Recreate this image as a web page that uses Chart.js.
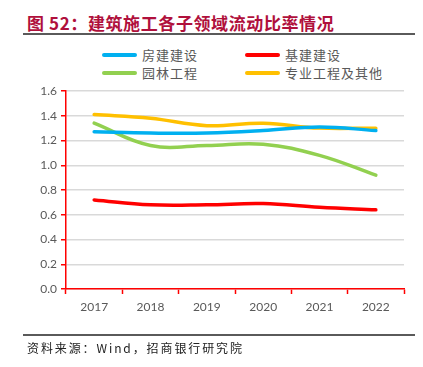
<!DOCTYPE html>
<html>
<head>
<meta charset="utf-8">
<script src="https://cdn.jsdelivr.net/npm/chart.js@4.4.0/dist/chart.umd.min.js"></script>
<style>
  html, body { margin: 0; padding: 0; background: #fff; }
  #wrap { position: relative; width: 423px; height: 367px; overflow: hidden; }
  #title {
    position: absolute; left: 27px; top: 10px;
    font-family: "Noto Sans CJK SC", sans-serif; font-weight: bold;
    font-size: 17px; color: #b0103c; white-space: nowrap; letter-spacing: 0.6px;
  }
  .rule { position: absolute; left: 23px; width: 392px; height: 2px; background: #5a5a5a; }
  #legend { position: absolute; left: 0; top: 0; font-family: "Noto Sans CJK SC", sans-serif; font-size: 13px; color: #595959; }
  .item { position: absolute; white-space: nowrap; }
  .item i { position: absolute; left: 0; top: 8px; width: 35px; height: 4px; border-radius: 2px; }
  .item span { position: absolute; left: 40px; top: 0; line-height: 20px; letter-spacing: 1px; }
  #source {
    position: absolute; left: 27px; top: 339px;
    font-family: "Noto Sans CJK SC", monospace; font-size: 12px; color: #222;
    letter-spacing: 1.9px; white-space: nowrap;
  }
  canvas { position: absolute; left: 0; top: 0; }
</style>
</head>
<body>
<div id="wrap">
  <div id="title">图 52：建筑施工各子领域流动比率情况</div>
  <div class="rule" style="top:33px"></div>
  <div id="legend"></div>
  <canvas id="c" width="423" height="367"></canvas>
  <div class="rule" style="top:334px"></div>
  <div id="source">资料来源：Wind，招商银行研究院</div>
</div>
<script>
// --- DATA ---
const years = ['2017', '2018', '2019', '2020', '2021', '2022'];
const housing = [1.27, 1.26, 1.26, 1.28, 1.31, 1.28];
const infra = [0.72, 0.68, 0.68, 0.69, 0.66, 0.64];
const garden = [1.34, 1.16, 1.16, 1.17, 1.08, 0.92];
const special = [1.41, 1.38, 1.32, 1.34, 1.30, 1.30];
const yTicks = [0.0, 0.2, 0.4, 0.6, 0.8, 1.0, 1.2, 1.4, 1.6];

const series = [
    { label: '房建建设', data: housing, color: '#00b0f0', x: 102, y: 45 },
    { label: '基建建设', data: infra, color: '#ff0000', x: 245, y: 45 },
    { label: '园林工程', data: garden, color: '#92d050', x: 102, y: 63 },
    { label: '专业工程及其他', data: special, color: '#ffc000', x: 245, y: 63 }
];

// --- LEGEND ---
const legend = document.getElementById('legend');
series.forEach(s => {
    const d = document.createElement('div');
    d.className = 'item';
    d.style.left = s.x + 'px';
    d.style.top = s.y + 'px';
    d.innerHTML = '<i style="background:' + s.color + '"></i><span>' + s.label + '</span>';
    legend.appendChild(d);
});

// --- CHART ---
const ctx = document.getElementById('c').getContext('2d');
new Chart(ctx, {
    type: 'line',
    data: {
        labels: years,
        datasets: series.map(s => ({
            label: s.label,
            data: s.data,
            borderColor: s.color,
            backgroundColor: s.color,
            borderWidth: 3.5,
            tension: 0.4,
            pointRadius: 0,
            borderCapStyle: 'round'
        }))
    },
    options: {
        responsive: false,
        animation: false,
        layout: { padding: { left: 0, right: 19, top: 91, bottom: 48 } },
        plugins: { legend: { display: false }, tooltip: { enabled: false } },
        scales: {
            x: {
                offset: true,
                afterFit: s => { s.height = 30; },
                border: { color: '#ff0000', width: 1.5 },
                grid: { offset: true, drawOnChartArea: false, drawTicks: true, tickLength: 5, tickColor: '#ff0000', tickWidth: 1.5 },
                ticks: { color: '#595959', font: { family: 'Lato', size: 12 }, padding: 6 }
            },
            y: {
                min: 0, max: 1.6,
                afterFit: s => { s.width = 66; },
                afterBuildTicks: s => { s.ticks = yTicks.map(v => ({ value: v })); },
                border: { color: '#ff0000', width: 1.5 },
                grid: { color: '#d9d9d9', lineWidth: 1.5, drawTicks: true, tickLength: 5, tickColor: '#ff0000', tickWidth: 1.5 },
                ticks: { color: '#595959', font: { family: 'Lato', size: 12 }, padding: 4,
                         callback: v => Number(v).toFixed(1) }
            }
        }
    }
});
</script>
</body>
</html>
